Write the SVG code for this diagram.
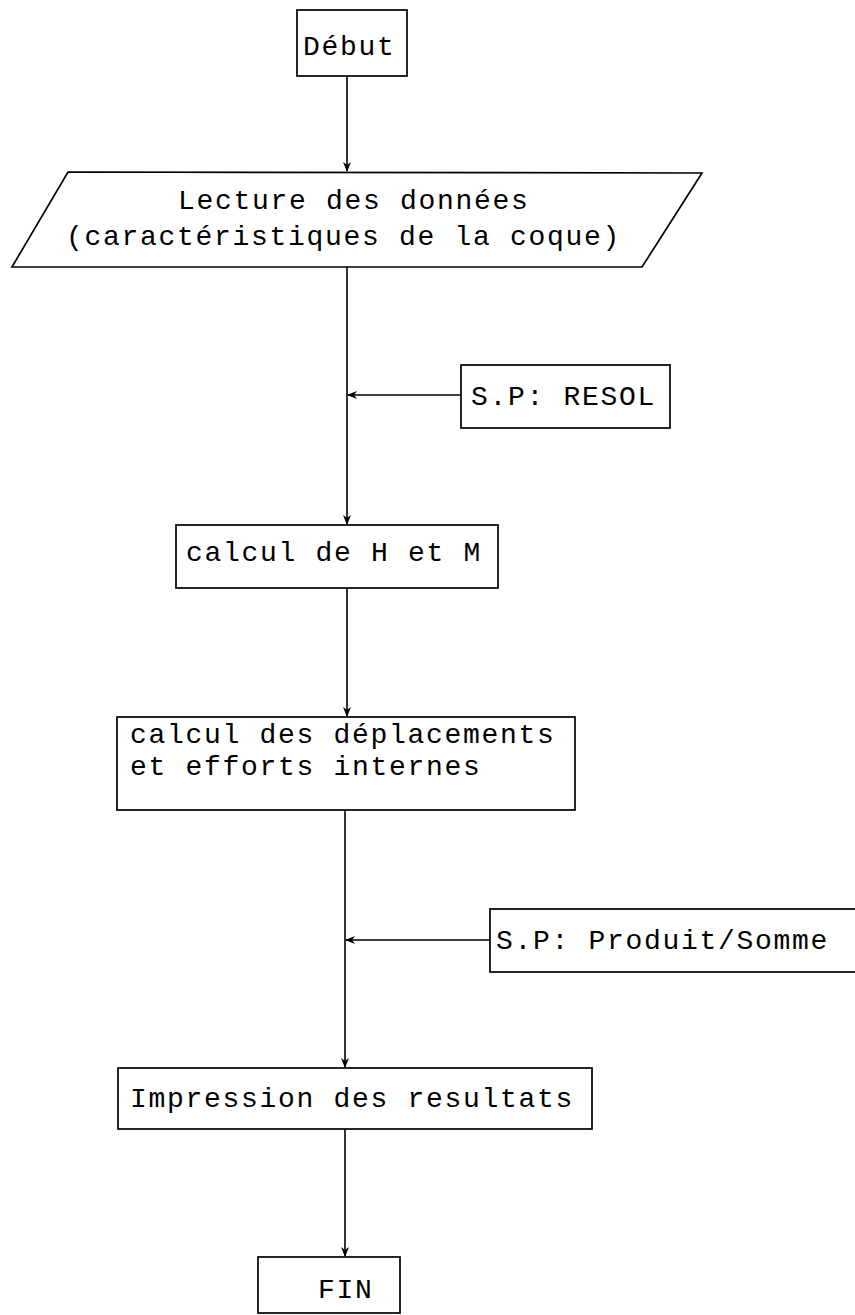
<svg xmlns="http://www.w3.org/2000/svg" width="855" height="1315" viewBox="0 0 855 1315">
<style>
.box{fill:#fff;stroke:#000;stroke-width:1.7}
.t{font-family:"Liberation Mono","Courier New",monospace;font-size:28px;letter-spacing:1.7px;fill:#000}
.c{stroke:#000;stroke-width:1.6;fill:none}
</style>
<defs>
<marker id="ah" markerWidth="10" markerHeight="10" refX="9" refY="5" orient="auto" markerUnits="userSpaceOnUse">
<path d="M0,1 L10,5 L0,9 L3,5 z" fill="#000"/>
</marker>
</defs>
<rect width="855" height="1315" fill="#fff"/>
<g id="connectors">
<line class="c" x1="347" y1="77" x2="347" y2="171" marker-end="url(#ah)"/>
<line class="c" x1="347" y1="267" x2="347" y2="524" marker-end="url(#ah)"/>
<line class="c" x1="347" y1="588" x2="347" y2="716" marker-end="url(#ah)"/>
<line class="c" x1="345" y1="810" x2="345" y2="1067" marker-end="url(#ah)"/>
<line class="c" x1="345" y1="1129" x2="345" y2="1256" marker-end="url(#ah)"/>
<line class="c" x1="461" y1="395" x2="348" y2="395" marker-end="url(#ah)"/>
<line class="c" x1="490" y1="940" x2="346" y2="940" marker-end="url(#ah)"/>
</g>
<g id="debut">
<rect class="box" x="297" y="10" width="110" height="66"/>
<text class="t" x="303" y="55">Début</text>
</g>
<g id="lecture">
<polygon class="box" points="68,172 702,173 642,267 12,267"/>
<text class="t" x="178" y="209">Lecture des données</text>
<text class="t" x="66" y="245">(caractéristiques de la coque)</text>
</g>
<g id="resol">
<rect class="box" x="461" y="365" width="209" height="63"/>
<text class="t" x="471" y="405">S.P: RESOL</text>
</g>
<g id="calculHM">
<rect class="box" x="176" y="525" width="322" height="63"/>
<text class="t" x="186" y="561">calcul de H et M</text>
</g>
<g id="deplacements">
<rect class="box" x="117" y="717" width="458" height="93"/>
<text class="t" x="130" y="743">calcul des déplacements</text>
<text class="t" x="130" y="775">et efforts internes</text>
</g>
<g id="produit">
<rect class="box" x="490" y="909" width="370" height="63"/>
<text class="t" x="496" y="949">S.P: Produit/Somme</text>
</g>
<g id="impression">
<rect class="box" x="118" y="1068" width="474" height="61"/>
<text class="t" x="130" y="1107">Impression des resultats</text>
</g>
<g id="fin">
<rect class="box" x="258" y="1257" width="142" height="56"/>
<text class="t" x="318" y="1298">FIN</text>
</g>
</svg>
